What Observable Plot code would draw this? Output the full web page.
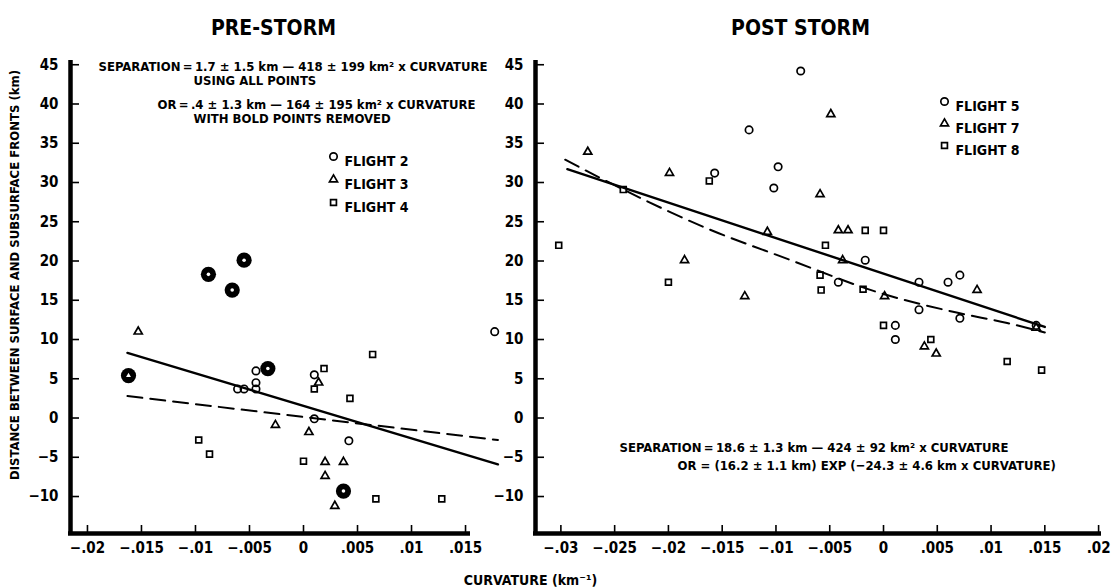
<!DOCTYPE html>
<html><head><meta charset="utf-8">
<script src="https://cdn.jsdelivr.net/npm/d3@7"></script>
<script src="https://cdn.jsdelivr.net/npm/@observablehq/plot@0.6"></script>
<style>
body{margin:0;background:#fff;}
#wrap{position:relative;width:1111px;height:587px;overflow:hidden;background:#fff;}
#wrap svg{position:absolute;top:0;overflow:visible;background:transparent;}
</style></head><body><div id="wrap"></div>
<script>
// ---------- DATA (curvature km^-1, separation km) ----------
const yTicks = [45, 40, 35, 30, 25, 20, 15, 10, 5, 0, -5, -10];
const preXTicks = [-0.02, -0.015, -0.01, -0.005, 0, 0.005, 0.01, 0.015];
const postXTicks = [-0.03, -0.025, -0.02, -0.015, -0.01, -0.005, 0, 0.005, 0.01, 0.015, 0.02];

// PRE-STORM
const preFlight2 = [[-0.0061,3.7],[-0.0055,3.7],[-0.0044,3.7],[-0.0044,4.5],[-0.0044,6.0],[0.0010,5.5],[0.0010,-0.1],[0.0042,-2.9],[0.0177,11.0]];
const preFlight3 = [[-0.0153,11.0],[0.0014,4.5],[-0.0026,-0.9],[0.0005,-1.8],[0.0020,-5.6],[0.0037,-5.6],[0.0020,-7.4],[0.0029,-11.2]];
const preFlight4 = [[0.0010,3.7],[0.0019,6.3],[0.0064,8.1],[0.0043,2.5],[-0.0097,-2.8],[-0.0087,-4.6],[0.0000,-5.5],[0.0067,-10.3],[0.0128,-10.3]];
// bold (removed) points: curvature, separation, flight
const preBold = [[-0.0162,5.4,3],[-0.0088,18.3,2],[-0.0066,16.3,2],[-0.0055,20.1,2],[-0.0033,6.3,2],[0.0037,-9.3,2]];
const preFitAll = [[-0.0163,8.3],[0.0180,-5.9]];
const preFitReduced = [[-0.0163,2.8],[0.0180,-2.8]];

// POST STORM
const postFlight5 = [[-0.0077,44.2],[-0.0125,36.7],[-0.0157,31.2],[-0.0098,32.0],[-0.0102,29.3],[-0.0017,20.1],[-0.0042,17.3],[0.0033,17.3],[0.0060,17.3],[0.0071,18.2],[0.0033,13.8],[0.0071,12.7],[0.0011,11.8],[0.0011,10.0],[0.0142,11.8]];
const postFlight7 = [[-0.0049,38.7],[-0.0275,33.9],[-0.0199,31.2],[-0.0059,28.5],[-0.0185,20.1],[-0.0129,15.5],[-0.0108,23.7],[-0.0042,23.9],[-0.0033,23.9],[-0.0038,20.1],[0.0001,15.5],[0.0087,16.3],[0.0038,9.1],[0.0049,8.2],[0.0142,11.5]];
const postFlight8 = [[-0.0162,30.2],[-0.0242,29.1],[-0.0302,22.0],[-0.0200,17.3],[-0.0017,23.9],[0.0000,23.9],[-0.0054,22.0],[-0.0059,18.2],[-0.0058,16.3],[-0.0019,16.4],[0.0000,11.8],[0.0044,10.0],[0.0115,7.2],[0.0147,6.1]];
const postFitLinear = [[-0.0294,31.7],[0.0150,11.6]];
const postFitExp = [[-0.0296,32.9],[-0.0242,29.1],[-0.0165,24.2],[-0.0088,20.2],[-0.0005,16.0],[0.0069,13.4],[0.0115,12.1],[0.0150,10.9]];

const preLegend = ["FLIGHT 2", "FLIGHT 3", "FLIGHT 4"];
const postLegend = ["FLIGHT 5", "FLIGHT 7", "FLIGHT 8"];
const preText = ["SEPARATION\u2009=\u20091.7 ± 1.5 km — 418 ± 199 km² x CURVATURE", "USING ALL POINTS",
                 "OR\u2009=\u2009.4 ± 1.3 km — 164 ± 195 km² x CURVATURE", "WITH BOLD POINTS REMOVED"];
const postText = ["SEPARATION\u2009=\u200918.6 ± 1.3 km — 424 ± 92 km² x CURVATURE",
                  "OR = (16.2 ± 1.1 km) EXP (−24.3 ± 4.6 km x CURVATURE)"];
const yLabel = "DISTANCE BETWEEN SURFACE AND SUBSURFACE FRONTS (km)";
const xLabel = "CURVATURE (km⁻¹)";
const titles = ["PRE-STORM", "POST STORM"];

// ---------- STYLE / LAYOUT ----------
const FONT = '"Liberation Sans Narrow","DejaVu Sans Condensed","Roboto Condensed",sans-serif';
const H = 587, MT = 60, MB = 54;
const yDomain = [-14.71, 45.54];
const symbols = {2:"circle",3:"triangle",4:"square",5:"circle",7:"triangle",8:"square"};
const symR = {circle:3.7, triangle:3.0, square:3.3};
const fmtX = d => d === 0 ? "0" : (d < 0 ? "−" : "") + String(Math.abs(d)).replace(/^0/, "");
const fmtY = d => d < 0 ? "−" + (-d) : String(d);

function pts(data, sym) {
  return Plot.dot(data, {x: d => d[0], y: d => d[1], symbol: sym, r: symR[sym], stroke: "black", strokeWidth: 1.7, fill: "none"});
}

function frameMarks(xTicks, xDomain, innerW) {
  const innerH = H - MT - MB;
  return [
    Plot.axisX(xTicks, {tickSize: 0, tickPadding: 9, tickFormat: fmtX, fontSize: 15, fontWeight: "bold", label: null}),
    Plot.axisY(yTicks, {tickSize: 0, tickPadding: 12, tickFormat: fmtY, fontSize: 15, fontWeight: "bold", label: null}),
    Plot.ruleX(xTicks, {insetTop: innerH - 8, strokeWidth: 1.6}),
    Plot.ruleY(yTicks, {insetRight: innerW - 9, strokeWidth: 1.6}),
    Plot.ruleX([xDomain[0]], {strokeWidth: 4.5}),
    Plot.ruleY([yDomain[0]], {strokeWidth: 4.5, insetLeft: -2})
  ];
}

function legendMarks(labels, syms, dx, dy0, step) {
  const out = [];
  labels.forEach((lab, i) => {
    out.push(Plot.dot([lab], {frameAnchor: "top-left", dx, dy: dy0 + step * i, symbol: syms[i], r: symR[syms[i]], stroke: "black", strokeWidth: 1.7, fill: "none"}));
    out.push(Plot.text([lab], {frameAnchor: "top-left", dx: dx + 11, dy: dy0 + step * i, textAnchor: "start", fontSize: 14, fontWeight: "bold"}));
  });
  return out;
}

const wrap = document.getElementById("wrap");

// ---------- PRE-STORM ----------
const preW = 520, preML = 70, preMR = 50;
const preXDomain = [-0.02157, 0.01546];
const pre = Plot.plot({
  width: preW, height: H, marginLeft: preML, marginRight: preMR, marginTop: MT, marginBottom: MB,
  x: {domain: preXDomain}, y: {domain: yDomain},
  style: {fontFamily: FONT, fontWeight: "bold", background: "transparent", overflow: "visible", color: "black"},
  marks: [
    ...frameMarks(preXTicks, preXDomain, preW - preML - preMR),
    Plot.line(preFitAll, {x: d => d[0], y: d => d[1], strokeWidth: 2.4}),
    Plot.line(preFitReduced, {x: d => d[0], y: d => d[1], strokeWidth: 2, strokeDasharray: "15,8"}),
    pts(preFlight2, "circle"), pts(preFlight3, "triangle"), pts(preFlight4, "square"),
    Plot.dot(preBold, {x: d => d[0], y: d => d[1], r: 7.6, fill: "black"}),
    Plot.dot(preBold, {x: d => d[0], y: d => d[1], symbol: d => symbols[d[2]], r: 1.8, fill: "white"}),
    ...legendMarks(preLegend, ["circle", "triangle", "square"], 263, 96, 23),
    Plot.text([titles[0]], {frameAnchor: "top-left", textAnchor: "middle", dx: 203, dy: -40, fontSize: 21, fontWeight: "bold"}),
    Plot.text([preText[0]], {frameAnchor: "top-left", dx: 28, dy: 1, textAnchor: "start", fontSize: 13, fontWeight: "bold"}),
    Plot.text([preText[1]], {frameAnchor: "top-left", dx: 123, dy: 15, textAnchor: "start", fontSize: 13, fontWeight: "bold"}),
    Plot.text([preText[2]], {frameAnchor: "top-left", dx: 87, dy: 39, textAnchor: "start", fontSize: 13, fontWeight: "bold"}),
    Plot.text([preText[3]], {frameAnchor: "top-left", dx: 123, dy: 53, textAnchor: "start", fontSize: 13, fontWeight: "bold"}),
    Plot.text([yLabel], {frameAnchor: "left", textAnchor: "middle", rotate: -90, dx: -56, dy: -22, fontSize: 13, fontWeight: "bold"})
  ]
});
pre.style.left = "0px";
wrap.appendChild(pre);

// ---------- POST STORM ----------
const postLeft = 480, postW = 631, postML = 55, postMR = 10;
const postXDomain = [-0.03236, 0.02027];
const post = Plot.plot({
  width: postW, height: H, marginLeft: postML, marginRight: postMR, marginTop: MT, marginBottom: MB,
  x: {domain: postXDomain}, y: {domain: yDomain},
  style: {fontFamily: FONT, fontWeight: "bold", background: "transparent", overflow: "visible", color: "black"},
  marks: [
    ...frameMarks(postXTicks, postXDomain, postW - postML - postMR),
    Plot.line(postFitLinear, {x: d => d[0], y: d => d[1], strokeWidth: 2.4}),
    Plot.line(postFitExp, {x: d => d[0], y: d => d[1], strokeWidth: 2, strokeDasharray: "15,8", curve: "monotone-x"}),
    pts(postFlight5, "circle"), pts(postFlight7, "triangle"), pts(postFlight8, "square"),
    ...legendMarks(postLegend, ["circle", "triangle", "square"], 409, 41, 22),
    Plot.text([titles[1]], {frameAnchor: "top-left", textAnchor: "middle", dx: 265, dy: -40, fontSize: 21, fontWeight: "bold"}),
    Plot.text([postText[0]], {frameAnchor: "top-left", dx: 84, dy: 382, textAnchor: "start", fontSize: 13, fontWeight: "bold"}),
    Plot.text([postText[1]], {frameAnchor: "top-left", dx: 142, dy: 400, textAnchor: "start", fontSize: 13, fontWeight: "bold"}),
    Plot.text([xLabel], {frameAnchor: "top-left", textAnchor: "middle", dx: -5, dy: 515, fontSize: 14, fontWeight: "bold"})
  ]
});
post.style.left = postLeft + "px";
wrap.appendChild(post);
</script></body></html>
